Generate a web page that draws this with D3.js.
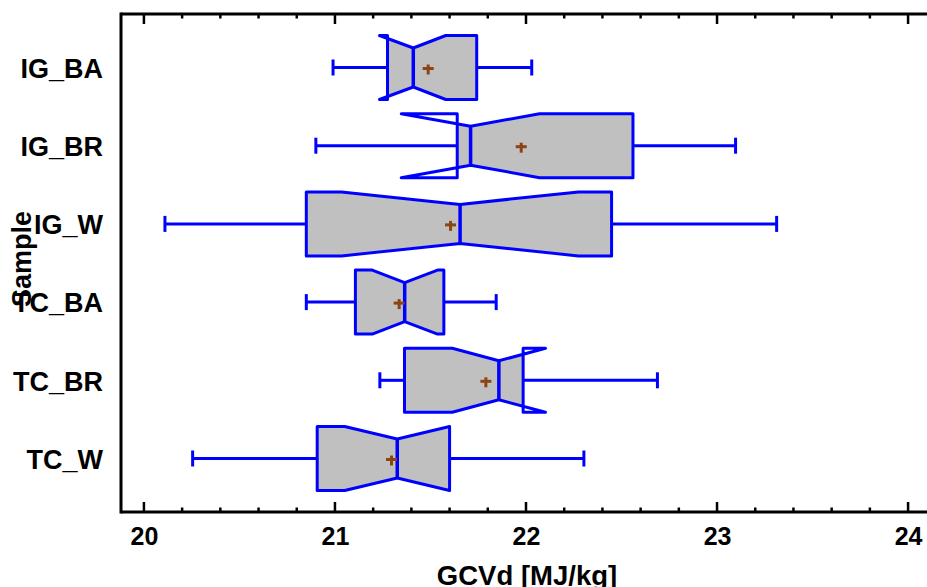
<!DOCTYPE html>
<html>
<head>
<meta charset="utf-8">
<script src="https://cdn.jsdelivr.net/npm/d3@7"></script>
<style>
  html, body { margin: 0; padding: 0; background: #fff; }
  svg { display: block; font-family: "Liberation Sans", Arial, sans-serif; font-weight: bold; }
</style>
</head>
<body>
<svg id="chart" width="927" height="587"></svg>
<script>
// Gross calorific value (dry basis) per sample group: notched box-and-whisker summary
const categories  = ["IG_BA", "IG_BR", "IG_W", "TC_BA", "TC_BR", "TC_W"];
const whiskerLow  = [20.99, 20.90, 20.11, 20.85, 21.235, 20.255];
const q1          = [21.275, 21.64, 20.85, 21.107, 21.364, 20.907];
const median      = [21.41, 21.71, 21.655, 21.365, 21.858, 21.326];
const q3          = [21.742, 22.56, 22.448, 21.57, 21.985, 21.60];
const whiskerHigh = [22.03, 23.097, 23.312, 21.844, 22.688, 22.303];
const mean        = [21.488, 21.975, 21.605, 21.336, 21.79, 21.296];
const notchLow    = [21.233, 21.347, 21.034, 21.195, 21.614, 21.051];
const notchHigh   = [21.58, 22.071, 22.275, 21.537, 22.102, 21.60];
const xTicks      = [20, 21, 22, 23, 24];
const xTitle = "GCVd [MJ/kg]";
const yTitle = "Sample";

const svg = d3.select("#chart");
const plotLeft = 121, plotRight = 931, plotTop = 14, plotBottom = 512;

const x = d3.scaleLinear().domain([19.88, 24.12]).range([plotLeft, plotRight]);
const y = d3.scalePoint().domain(categories).range([plotTop, plotBottom]).padding(0.684);

const boxHalf = 32, capHalf = 8, indent = 12.5;
const blue = "#0000ff", fillGray = "#c0c0c0", brown = "#8b4513";

const rows = categories.map((c, i) => ({
  c, i, wl: whiskerLow[i], q1: q1[i], med: median[i], q3: q3[i],
  wh: whiskerHigh[i], mean: mean[i], nl: notchLow[i], nh: notchHigh[i]
}));

const defs = svg.append("defs");
const g = svg.append("g");

rows.forEach(d => {
  const cy = y(d.c);
  const t = cy - boxHalf, b = cy + boxHalf;
  const pts = [
    [x(d.q1), t], [x(d.nl), t], [x(d.med), t + indent], [x(d.nh), t], [x(d.q3), t],
    [x(d.q3), b], [x(d.nh), b], [x(d.med), b - indent], [x(d.nl), b], [x(d.q1), b]
  ];
  const path = "M" + pts.map(p => p.join(",")).join("L") + "Z";

  // fill stays inside the interquartile range
  const clipId = "clip" + d.i;
  defs.append("clipPath").attr("id", clipId)
    .append("rect").attr("x", x(d.q1)).attr("y", t)
    .attr("width", x(d.q3) - x(d.q1)).attr("height", b - t);
  g.append("path").attr("d", path).attr("fill", fillGray)
    .attr("clip-path", `url(#${clipId})`);

  // whiskers with end caps
  g.append("line").attr("x1", x(d.wl)).attr("x2", x(d.q1)).attr("y1", cy).attr("y2", cy)
    .attr("stroke", blue).attr("stroke-width", 3);
  g.append("line").attr("x1", x(d.q3)).attr("x2", x(d.wh)).attr("y1", cy).attr("y2", cy)
    .attr("stroke", blue).attr("stroke-width", 3);
  [d.wl, d.wh].forEach(v => {
    g.append("line").attr("x1", x(v)).attr("x2", x(v)).attr("y1", cy - capHalf).attr("y2", cy + capHalf)
      .attr("stroke", blue).attr("stroke-width", 3);
  });

  // notched outline
  g.append("path").attr("d", path).attr("fill", "none")
    .attr("stroke", blue).attr("stroke-width", 3).attr("stroke-linejoin", "round");

  // median
  g.append("line").attr("x1", x(d.med)).attr("x2", x(d.med))
    .attr("y1", t + indent).attr("y2", b - indent)
    .attr("stroke", blue).attr("stroke-width", 3.5);

  // mean marker
  const mx = x(d.mean);
  g.append("line").attr("x1", mx - 5.5).attr("x2", mx + 5.5).attr("y1", cy + 1).attr("y2", cy + 1)
    .attr("stroke", brown).attr("stroke-width", 3);
  g.append("line").attr("x1", mx).attr("x2", mx).attr("y1", cy - 3).attr("y2", cy + 7)
    .attr("stroke", brown).attr("stroke-width", 3);
});

// frame: left, top and bottom axis lines
const axisG = svg.append("g").attr("stroke", "#000").attr("stroke-width", 3);
axisG.append("line").attr("x1", plotLeft).attr("x2", plotLeft).attr("y1", plotTop - 1.5).attr("y2", plotBottom + 1.5);
axisG.append("line").attr("x1", plotLeft).attr("x2", plotRight).attr("y1", plotTop).attr("y2", plotTop);
axisG.append("line").attr("x1", plotLeft).attr("x2", plotRight).attr("y1", plotBottom).attr("y2", plotBottom);

// ticks on bottom (pointing in) and mirrored on top
const minorTicks = d3.range(20, 24.001, 0.2).filter(v => Math.abs(v - Math.round(v)) > 1e-6);
const bottomAxis = d3.axisBottom(x).tickValues(xTicks).tickSize(0).tickPadding(0).tickFormat(d3.format("d"));
const bAx = svg.append("g").attr("transform", `translate(0,${plotBottom})`).call(bottomAxis);
bAx.select(".domain").remove();
bAx.selectAll("text").attr("y", 33).attr("dy", null)
  .attr("font-size", 25).attr("font-weight", "bold")
  .attr("font-family", '"Liberation Sans", Arial, sans-serif').attr("fill", "#000");

const tickG = svg.append("g").attr("stroke", "#000");
xTicks.forEach(v => {
  tickG.append("line").attr("x1", x(v)).attr("x2", x(v)).attr("y1", plotBottom).attr("y2", plotBottom - 10).attr("stroke-width", 2.5);
  tickG.append("line").attr("x1", x(v)).attr("x2", x(v)).attr("y1", plotTop).attr("y2", plotTop + 10).attr("stroke-width", 2.5);
});
minorTicks.forEach(v => {
  tickG.append("line").attr("x1", x(v)).attr("x2", x(v)).attr("y1", plotBottom).attr("y2", plotBottom - 4.5).attr("stroke-width", 2.5);
  tickG.append("line").attr("x1", x(v)).attr("x2", x(v)).attr("y1", plotTop).attr("y2", plotTop + 4.5).attr("stroke-width", 2.5);
});

// category labels
const leftAxis = d3.axisLeft(y).tickSize(0).tickPadding(0);
const lAx = svg.append("g").attr("transform", `translate(${plotLeft},0)`).call(leftAxis);
lAx.select(".domain").remove();
lAx.selectAll("text").attr("x", -18).attr("dy", "0.36em")
  .attr("font-size", 27).attr("font-weight", "bold")
  .attr("font-family", '"Liberation Sans", Arial, sans-serif').attr("fill", "#000");

// axis titles
svg.append("text").attr("x", 527).attr("y", 585).attr("text-anchor", "middle")
  .attr("font-size", 27.5).attr("fill", "#000").text(xTitle);
svg.append("text").attr("transform", "translate(31,259) rotate(-90)").attr("text-anchor", "middle")
  .attr("font-size", 27).attr("fill", "#000").text(yTitle);
</script>
</body>
</html>
